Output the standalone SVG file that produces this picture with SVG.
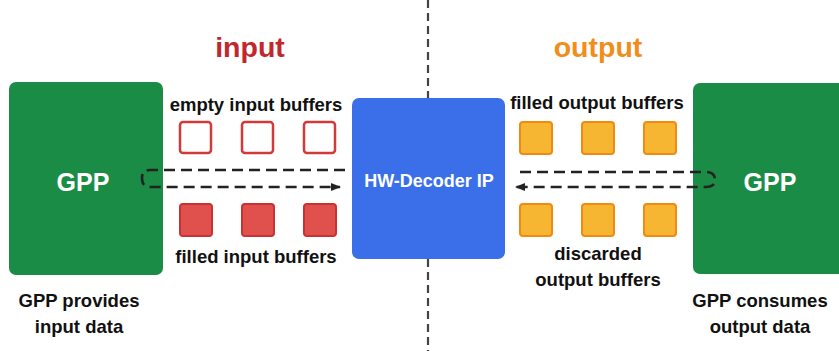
<svg xmlns="http://www.w3.org/2000/svg" width="839" height="351" viewBox="0 0 839 351">
<defs>
<style>
text{font-family:"Liberation Sans",Arial,sans-serif;font-weight:bold;text-anchor:middle}
.lbl{font-size:18.5px;fill:#111}
.gpp{fill:#1b8c45}
.gt{font-size:25px;fill:#fff}
.ein{fill:#fff;stroke:#d2393a;stroke-width:2.5}
.fin{fill:#e0504c;stroke:#c93232;stroke-width:2}
.out{fill:#f7b631;stroke:#f08a12;stroke-width:2}
.dash{fill:none;stroke:#222;stroke-width:2.6;stroke-dasharray:11 6}
.div{fill:none;stroke:#444;stroke-width:2.2;stroke-dasharray:8 5}
</style>
<marker id="ah2" viewBox="0 0 10 10" refX="9" refY="5" markerWidth="10" markerHeight="10" orient="auto" markerUnits="userSpaceOnUse">
<path d="M0,1 L10,5 L0,9 Z" fill="#222"/>
</marker>
</defs>
<rect width="839" height="351" fill="#fff"/>
<g id="divider">
<path class="div" d="M428,0 V98 M428,259 V351"/>
</g>
<text x="250" y="57" style="font-size:28.5px;fill:#c1272d">input</text>
<text x="598" y="57" style="font-size:28.5px;fill:#f18d1b">output</text>
<g id="gpp-left">
<rect class="gpp" x="9" y="82" width="154" height="193" rx="7"/>
<text class="gt" x="83" y="191">GPP</text>
<text class="lbl" x="79" y="307">GPP provides</text>
<text class="lbl" x="79" y="333">input data</text>
</g>
<g id="gpp-right">
<rect class="gpp" x="693" y="83" width="156" height="191" rx="7"/>
<text class="gt" x="770" y="191">GPP</text>
<text class="lbl" x="760" y="307">GPP consumes</text>
<text class="lbl" x="760" y="333">output data</text>
</g>
<g id="decoder">
<rect x="352" y="98" width="153" height="161" rx="7" fill="#3a6fe9"/>
<text x="429" y="187" style="font-size:18px;fill:#fff">HW-Decoder IP</text>
</g>
<g id="empty-input-buffers">
<text class="lbl" x="256" y="111">empty input buffers</text>
<rect class="ein" x="180" y="122" width="31" height="31" rx="3"/>
<rect class="ein" x="242" y="122" width="31" height="31" rx="3"/>
<rect class="ein" x="304" y="122" width="31" height="31" rx="3"/>
</g>
<g id="filled-input-buffers">
<rect class="fin" x="180" y="204" width="32" height="32" rx="3"/>
<rect class="fin" x="242" y="204" width="32" height="32" rx="3"/>
<rect class="fin" x="304" y="204" width="32" height="32" rx="3"/>
<text class="lbl" x="256" y="263">filled input buffers</text>
</g>
<g id="filled-output-buffers">
<text class="lbl" x="597" y="109">filled output buffers</text>
<rect class="out" x="520" y="122" width="32" height="32" rx="3"/>
<rect class="out" x="582" y="122" width="32" height="32" rx="3"/>
<rect class="out" x="644" y="122" width="32" height="32" rx="3"/>
</g>
<g id="discarded-output-buffers">
<rect class="out" x="520" y="204" width="32" height="32" rx="3"/>
<rect class="out" x="582" y="204" width="32" height="32" rx="3"/>
<rect class="out" x="644" y="204" width="32" height="32" rx="3"/>
<text class="lbl" x="598" y="260">discarded</text>
<text class="lbl" x="598" y="286">output buffers</text>
</g>
<g id="connectors">
<path class="dash" d="M345,170 H150 Q142,170 142,178 Q142,187 150,187 H340" marker-end="url(#ah2)"/>
<path class="dash" d="M520,172 H706 Q715,172 715,180 Q715,187 706,187 H516" marker-end="url(#ah2)"/>
</g>
</svg>
